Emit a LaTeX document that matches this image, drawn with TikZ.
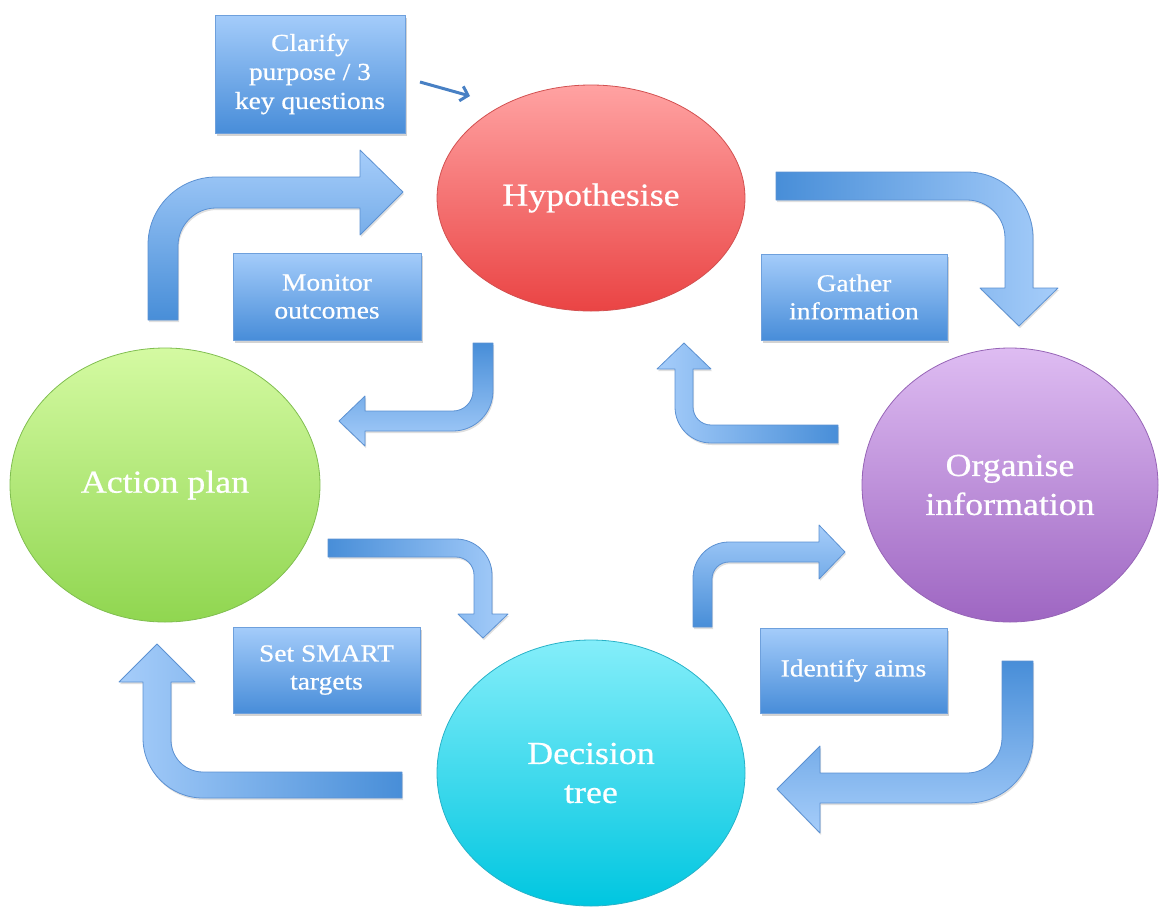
\documentclass[tikz,border=0pt]{standalone}
\usepackage{fontspec}
\setmainfont{Liberation Serif}[FakeStretch=1.12, FakeBold=0.6]
\usetikzlibrary{shapes.geometric,shadows,calc,arrows.meta}
\definecolor{abLight}{RGB}{166,205,250}
\definecolor{abDark}{RGB}{72,142,216}
\definecolor{abLine}{RGB}{92,145,210}
\definecolor{bxTop}{RGB}{164,204,250}
\definecolor{bxBot}{RGB}{72,141,217}
\definecolor{bxLine}{RGB}{110,160,220}
\definecolor{rTop}{RGB}{255,162,162}
\definecolor{rBot}{RGB}{234,68,68}
\definecolor{rLine}{RGB}{210,80,80}
\definecolor{pTop}{RGB}{222,188,242}
\definecolor{pBot}{RGB}{158,102,194}
\definecolor{pLine}{RGB}{150,100,182}
\definecolor{cTop}{RGB}{132,238,250}
\definecolor{cBot}{RGB}{0,198,224}
\definecolor{cLine}{RGB}{40,178,200}
\definecolor{gTop}{RGB}{212,250,162}
\definecolor{gBot}{RGB}{144,214,80}
\definecolor{gLine}{RGB}{128,190,80}
\definecolor{thinArr}{RGB}{72,128,196}
\newcommand\qa[3]{.. controls ($(#1)!0.552!(#2)$) and ($(#3)!0.552!(#2)$) .. (#3)}
\tikzset{
  barrow/.style={draw=abLine, line width=0.8pt, line join=round,
    drop shadow={opacity=0.25, shadow xshift=1pt, shadow yshift=-2pt}},
  bigcirc/.style={ellipse, inner sep=0pt, line width=0.8pt, text=white,
    font=\fontsize{32}{39}\selectfont, align=center},
  infobox/.style={rectangle, inner sep=0pt, draw=bxLine, line width=0.8pt,
    top color=bxTop, bottom color=bxBot, text=white,
    font=\fontsize{24.5}{28}\selectfont, align=center,
    drop shadow={opacity=0.35, shadow xshift=2pt, shadow yshift=-3pt}},
}
\begin{document}
\begin{tikzpicture}[x=1pt, y=-1pt]
\useasboundingbox (0,0) rectangle (1160,906);

% ellipses
\node[bigcirc, draw=rLine, top color=rTop, bottom color=rBot,
  minimum width=308pt, minimum height=226pt] (hyp) at (591,198) {\raisebox{-4pt}{Hypothesise}};
\node[bigcirc, draw=pLine, top color=pTop, bottom color=pBot,
  minimum width=296pt, minimum height=274pt] (org) at (1010,485) {Organise\\information};
\node[bigcirc, draw=cLine, top color=cTop, bottom color=cBot,
  minimum width=308pt, minimum height=266pt] (dec) at (591,773) {Decision\\tree};
\node[bigcirc, draw=gLine, top color=gTop, bottom color=gBot,
  minimum width=310pt, minimum height=274pt] (act) at (165,485) {\raisebox{-4pt}{Action plan}};

% boxes
\node[infobox, minimum width=190pt, minimum height=118pt, font=\fontsize{24.5}{29}\selectfont] (clar) at (310,74) {Clarify\\purpose / 3\\key questions};
\node[infobox, minimum width=188pt, minimum height=87pt] (mon) at (327,296.5) {Monitor\\outcomes};
\node[infobox, minimum width=186pt, minimum height=86pt] (gat) at (854,297) {Gather\\information};
\node[infobox, minimum width=187pt, minimum height=86pt] (set) at (326.5,670) {Set SMART\\targets};
\node[infobox, minimum width=187pt, minimum height=85pt] (ide) at (853.5,670.5) {Identify aims};

% thin arrow
\coordinate (ca) at (420,82);
\coordinate (cb) at (470,96);
\draw[thinArr, line width=3pt, -{Straight Barb[length=7pt,width=15pt]}] (ca) -- (cb);

% 1: action plan -> hypothesise
\path[barrow, top color=abLight, bottom color=abDark]
  (178,320) -- (148,320) -- (148,245) \qa{148,245}{148,177}{216,177}
  -- (360,177) -- (360,150) -- (403,192) -- (360,235) -- (360,208)
  -- (216,208) \qa{216,208}{178,208}{178,246} -- cycle;
% 2: hypothesise -> organise
\path[barrow, left color=abDark, right color=abLight]
  (776,172) -- (967,172) \qa{967,172}{1033,172}{1033,238}
  -- (1033,288) -- (1058,288) -- (1019,326) -- (980,288) -- (1005,288)
  -- (1005,238) \qa{1005,238}{1005,200}{967,200} -- (776,200) -- cycle;
% 3: hypothesise -> action plan
\path[barrow, top color=abDark, bottom color=abLight]
  (473,343) -- (493,343) -- (493,391) \qa{493,391}{493,431}{453,431}
  -- (365,431) -- (365,446) -- (339,421) -- (365,396) -- (365,411)
  -- (453,411) \qa{453,411}{473,411}{473,391} -- cycle;
% 4: organise -> hypothesise
\path[barrow, left color=abLight, right color=abDark]
  (838,443) -- (711,443) \qa{711,443}{675,443}{675,407}
  -- (675,369) -- (657,369) -- (684,343) -- (711,369) -- (693,369)
  -- (693,407) \qa{693,407}{693,425}{711,425} -- (838,425) -- cycle;
% 5: action plan -> decision tree
\path[barrow, left color=abDark, right color=abLight]
  (328,539) -- (456,539) \qa{456,539}{492,539}{492,575}
  -- (492,614) -- (508,614) -- (483,638) -- (458,614) -- (474,614)
  -- (474,575) \qa{474,575}{474,557}{456,557} -- (328,557) -- cycle;
% 6: decision tree -> organise
\path[barrow, top color=abLight, bottom color=abDark]
  (712,627) -- (693,627) -- (693,578) \qa{693,578}{693,542}{729,542}
  -- (819,542) -- (819,525) -- (845,552) -- (819,579) -- (819,562)
  -- (729,562) \qa{729,562}{712,562}{712,579} -- cycle;
% 7: decision tree -> action plan
\path[barrow, left color=abLight, right color=abDark]
  (402,798) -- (203,798) \qa{203,798}{143,798}{143,738}
  -- (143,682) -- (119,682) -- (157,644) -- (195,682) -- (171,682)
  -- (171,740) \qa{171,740}{171,772}{203,772} -- (402,772) -- cycle;
% 8: organise -> decision tree
\path[barrow, top color=abDark, bottom color=abLight]
  (1002,661) -- (1033,661) -- (1033,738) \qa{1033,738}{1033,803}{968,803}
  -- (820,803) -- (820,833) -- (777,789) -- (820,746) -- (820,773)
  -- (967,773) \qa{967,773}{1002,773}{1002,738} -- cycle;
\end{tikzpicture}
\end{document}
